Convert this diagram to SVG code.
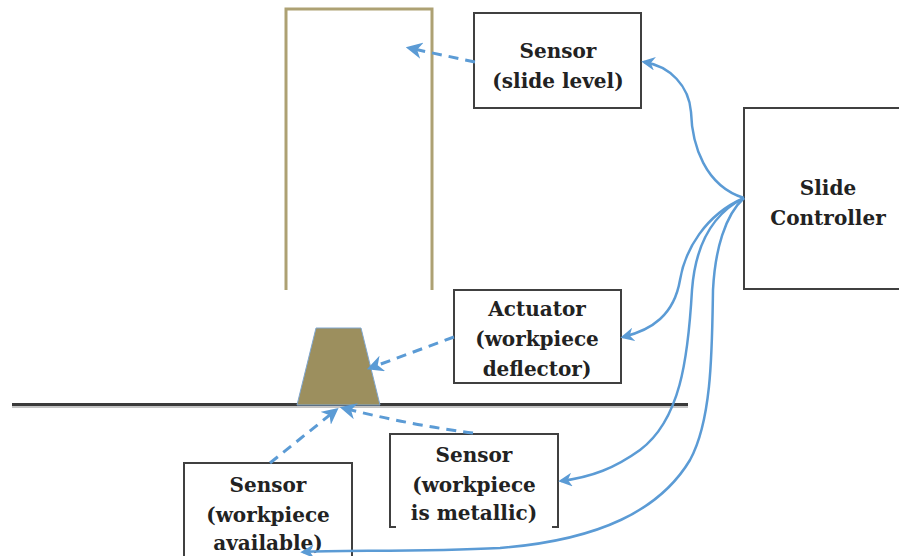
<svg xmlns="http://www.w3.org/2000/svg" width="899" height="556" viewBox="0 0 899 556">
  <style>
    .box { fill: #ffffff; stroke: #404040; stroke-width: 2; }
    .lbl { font-family: "DejaVu Serif", "Liberation Serif", serif; font-weight: bold; font-size: 20px; fill: #222222; text-anchor: middle; }
    .dash { fill: none; stroke: #5b9bd5; stroke-width: 3; stroke-dasharray: 10 7; marker-end: url(#head); }
    .wire { fill: none; stroke: #5b9bd5; stroke-width: 2.5; marker-end: url(#head); }
  </style>
  <defs>
    <marker id="head" viewBox="0 0 10 10" refX="8" refY="5" markerWidth="5.5" markerHeight="5.5" orient="auto" markerUnits="strokeWidth">
      <path d="M0,0 L10,5 L0,10 L3,5 Z" fill="#5b9bd5"/>
    </marker>
  </defs>

  <rect width="899" height="556" fill="#ffffff"/>

  <!-- slide column, open at the bottom -->
  <g id="slide">
    <path d="M286,290 L286,9 L432,9 L432,290" fill="none" stroke="#ada173" stroke-width="3"/>
  </g>

  <!-- conveyor floor -->
  <g id="floor">
    <line x1="12" y1="404.5" x2="688" y2="404.5" stroke="#3a3a3a" stroke-width="3"/>
    <line x1="12" y1="407" x2="688" y2="407" stroke="#8a8a8a" stroke-width="1"/>
  </g>

  <!-- workpiece -->
  <g id="workpiece">
    <polygon points="316,328 361,328 380,405 297,405" fill="#9c8f5e" stroke="#7fa6cf" stroke-width="1"/>
  </g>

  <g id="sensor-slide-level">
    <rect class="box" x="474" y="13" width="167" height="95"/>
    <text class="lbl" x="558" y="58">Sensor</text>
    <text class="lbl" x="558" y="88">(slide level)</text>
  </g>

  <g id="slide-controller">
    <rect class="box" x="744" y="108" width="170" height="181"/>
    <text class="lbl" x="828" y="195">Slide</text>
    <text class="lbl" x="828" y="225">Controller</text>
  </g>

  <g id="actuator">
    <rect class="box" x="454" y="290" width="167" height="93"/>
    <text class="lbl" x="537" y="316">Actuator</text>
    <text class="lbl" x="537" y="346">(workpiece</text>
    <text class="lbl" x="537" y="376">deflector)</text>
  </g>

  <g id="sensor-metallic">
    <path d="M396,527 L390,527 L390,434 L558,434 L558,527 L552,527" fill="none" stroke="#404040" stroke-width="2"/>
    <text class="lbl" x="474" y="462">Sensor</text>
    <text class="lbl" x="474" y="492">(workpiece</text>
    <text class="lbl" x="474" y="520">is metallic)</text>
  </g>

  <g id="sensor-available">
    <rect class="box" x="184" y="463" width="168" height="100"/>
    <text class="lbl" x="268" y="492">Sensor</text>
    <text class="lbl" x="268" y="522">(workpiece</text>
    <text class="lbl" x="268" y="550">available)</text>
  </g>

  <g id="connectors">
    <!-- signal paths (dashed) -->
    <path class="dash" d="M475,62 L409,48"/>
    <path class="dash" d="M454,337 L370,368"/>
    <path class="dash" d="M270,463 L336,410"/>
    <path class="dash" d="M473,433 Q410,425 343,408"/>
    <!-- wiring from the controller -->
    <path class="wire" d="M744,198 C705,186 692,145 691,112 C689,86 670,66 644,62"/>
    <path class="wire" d="M744,198 C705,215 685,250 680,280 C674,315 652,330 623,337"/>
    <path class="wire" d="M744,198 C710,215 695,250 692,290 C688,360 680,420 640,450 C615,468 592,477 561,481"/>
    <path class="wire" d="M744,198 C725,215 715,250 713,290 C712,350 712,420 690,460 C660,510 600,540 500,548 C420,552 340,550 303,552"/>
  </g>
</svg>
